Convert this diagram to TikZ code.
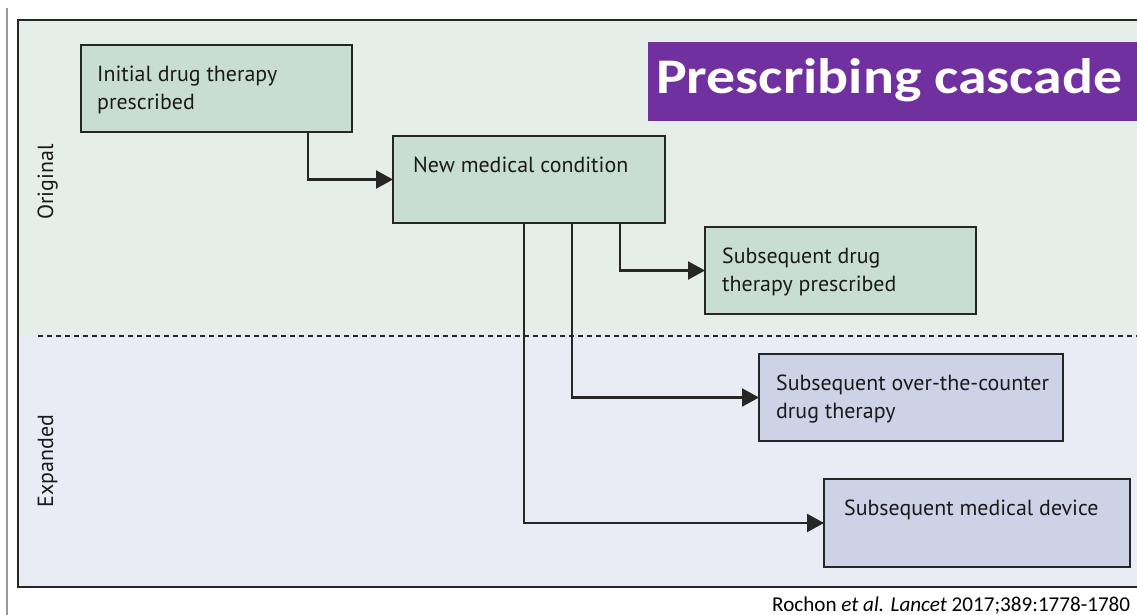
\documentclass[tikz,border=0pt]{standalone}
\usepackage{fontspec}
\usepackage{graphicx}
\setmainfont{PT Sans}
\newfontfamily\titlefont{Carlito}
\usetikzlibrary{arrows.meta}
\definecolor{bggreen}{HTML}{E5EEE9}
\definecolor{bgblue}{HTML}{E9EBF5}
\definecolor{boxgreen}{HTML}{C9DED3}
\definecolor{boxblue}{HTML}{CDD2E6}
\definecolor{titlepurple}{HTML}{7030A0}
\definecolor{linedark}{HTML}{262626}
\definecolor{txtdark}{HTML}{1A1A1A}
\begin{document}
\begin{tikzpicture}[x=1bp,y=-1bp,
  box/.style={draw=linedark, line width=2.1bp, anchor=north west, inner sep=0pt, outer sep=0pt, minimum height=87bp},
  lbl/.style={anchor=north west, inner sep=0pt, align=left, text=txtdark, font=\fontsize{22}{28}\selectfont},
  side/.style={anchor=base, inner sep=0pt, rotate=90, text=txtdark, font=\fontsize{22}{28}\selectfont},
  conn/.style={draw=linedark, line width=2.1bp, -{Triangle[length=17bp,width=18bp]}},
  frame/.style={draw=linedark, line width=1.6bp}
]
\useasboundingbox (0,0) rectangle (1137,615);
\fill[white] (0,0) rectangle (1137,615);
% backgrounds
\fill[bggreen] (18,20) rectangle (1137,336);
\fill[bgblue] (18,336) rectangle (1137,587);
\draw[frame] (1137,20) -- (18,20) -- (18,587) -- (1137,587);
\draw[draw=black!40, line width=1.2bp] (7,8) -- (7,615);
\draw[linedark, line width=2bp, dash pattern=on 5bp off 4bp] (38,336) -- (1137,336);
% side labels
\node[side] (orig) at (53,182) {Original};
\node[side] (expd) at (53,461) {Expanded};
% title
\node[fill=titlepurple, anchor=north west, inner sep=0pt, minimum width=489bp, minimum height=79bp] (titlebox) at (648,42) {};
\node[anchor=base west, inner sep=0pt, text=white, font=\titlefont\bfseries\fontsize{50}{60}\selectfont] (title) at (656,94) {\scalebox{1.16}[1]{Prescribing cascade}};
% boxes
\node[box, fill=boxgreen, minimum width=271bp] (init) at (81,45) {};
\node[box, fill=boxgreen, minimum width=272bp] (nmc) at (393,136) {};
\node[box, fill=boxgreen, minimum width=271bp] (sdt) at (705,227) {};
\node[box, fill=boxblue, minimum width=304bp] (otc) at (759,354) {};
\node[box, fill=boxblue, minimum width=306bp, minimum height=88bp] (dev) at (824,479) {};
% connectors
\coordinate (c1) at ([xshift=-44bp]init.south east);
\coordinate (c2) at ([xshift=-45bp]nmc.south east);
\coordinate (c3) at ([xshift=-93bp]nmc.south east);
\coordinate (c4) at ([xshift=-141bp]nmc.south east);
\draw[conn] (c1) |- (nmc.west);
\draw[conn] (c2) |- (sdt.west);
\draw[conn] (c3) |- (otc.west);
\draw[conn] (c4) |- (dev.west);
% box texts
\node[lbl] (init-t) at ([xshift=16bp,yshift=-21bp]init.north west) {Initial drug therapy\\prescribed};
\node[lbl] (nmc-t) at ([xshift=20bp,yshift=-21bp]nmc.north west) {New medical condition};
\node[lbl] (sdt-t) at ([xshift=17bp,yshift=-21bp]sdt.north west) {Subsequent drug\\therapy prescribed};
\node[lbl] (otc-t) at ([xshift=17bp,yshift=-21bp]otc.north west) {Subsequent over-the-counter\\drug therapy};
\node[lbl] (dev-t) at ([xshift=20bp,yshift=-21bp]dev.north west) {Subsequent medical device};
% citation
\node[anchor=base west, inner sep=0pt, text=black, font=\titlefont\fontsize{21.2}{25}\selectfont] (cite) at (772,611) {Rochon \textit{et al.} \textit{Lancet} 2017;389:1778-1780};
\end{tikzpicture}
\end{document}
